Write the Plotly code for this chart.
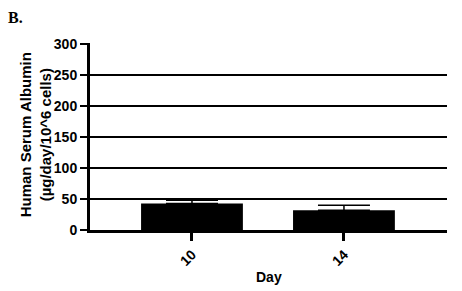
import plotly.graph_objects as go

days = ["10", "14"]
albumin = [42.8, 31.6]
err_plus = [5.2, 8.4]
y_ticks = [0, 50, 100, 150, 200, 250, 300]

xpos = list(range(len(days)))
FONT = "Liberation Sans, Arial, sans-serif"

fig = go.Figure()
fig.add_trace(go.Bar(
    x=xpos, y=albumin, width=0.67,
    marker=dict(color="black", line=dict(width=0)),
    error_y=dict(type="data", array=err_plus, arrayminus=[0] * len(days),
                 symmetric=False, color="black", thickness=1.5, width=26),
))

fig.update_layout(
    width=462, height=291,
    margin=dict(l=90, r=15, t=43, b=61),
    paper_bgcolor="white", plot_bgcolor="white",
    showlegend=False,
    font=dict(family=FONT, color="black"),
    xaxis=dict(
        range=[-0.671, 1.678], tickmode="array", tickvals=xpos, ticktext=days,
        tickangle=-45, tickfont=dict(size=14, family=FONT, weight="bold"),
        ticks="outside", ticklen=8, tickwidth=3, tickcolor="black",
        showline=True, linewidth=3, linecolor="black", showgrid=False, zeroline=False,
        automargin=False,
    ),
    yaxis=dict(
        range=[0, 301], tickmode="array", tickvals=y_ticks,
        tickfont=dict(size=14, family=FONT, weight="bold"),
        ticks="outside", ticklen=7, tickwidth=2, tickcolor="black",
        showline=True, linewidth=3, linecolor="black",
        showgrid=True, gridcolor="black", gridwidth=2, zeroline=False,
        automargin=False,
    ),
    annotations=[
        dict(text="<b>B.</b>", xref="paper", yref="paper", x=-0.235, y=1.135,
             xanchor="left", yanchor="middle", showarrow=False,
             font=dict(family="Liberation Serif, Times New Roman, serif", size=16, color="black")),
        dict(text="<b>Human Serum Albumin<br>(µg/day/10^6 cells)</b>", xref="paper", yref="paper",
             x=-0.152, y=0.51, xanchor="center", yanchor="middle", textangle=-90,
             showarrow=False, font=dict(size=15, color="black")),
        dict(text="<b>Day</b>", xref="paper", yref="paper", x=0.5, y=-0.251,
             xanchor="center", yanchor="middle", showarrow=False,
             font=dict(size=14, color="black")),
    ],
)

fig.write_html("out.html")
